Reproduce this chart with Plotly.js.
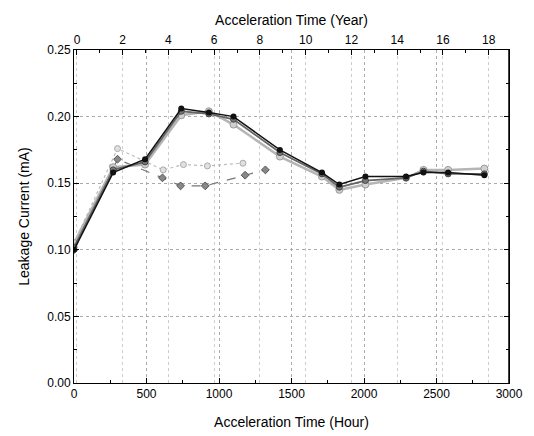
<!DOCTYPE html>
<html><head><meta charset="utf-8">
<script src="https://cdn.plot.ly/plotly-3.0.1.min.js"></script>
<style>body{margin:0;background:#fff}#c{width:534px;height:436px}</style>
</head><body><div id="c"></div>
<script>
const hoursMain = [0, 270, 490, 740, 930, 1100, 1420, 1710, 1830, 2010, 2290, 2410, 2580, 2830];
const seriesBlack = [0.100, 0.158, 0.168, 0.206, 0.203, 0.200, 0.175, 0.158, 0.149, 0.155, 0.155, 0.158, 0.158, 0.156];
const seriesDark  = [0.102, 0.160, 0.166, 0.204, 0.202, 0.198, 0.173, 0.157, 0.147, 0.152, 0.154, 0.159, 0.157, 0.157];
const seriesLight = [0.105, 0.162, 0.164, 0.201, 0.204, 0.194, 0.170, 0.155, 0.145, 0.149, 0.154, 0.160, 0.160, 0.161];
const hoursA = [0, 300, 610, 735, 905, 1180, 1320];
const seriesA = [0.100, 0.168, 0.154, 0.148, 0.148, 0.156, 0.160];
const hoursB = [0, 300, 615, 755, 920, 1165];
const seriesB = [0.105, 0.176, 0.160, 0.164, 0.163, 0.165];
const yearTicks = [0, 2, 4, 6, 8, 10, 12, 14, 16, 18];

const font = {family: 'Liberation Sans, Arial, sans-serif', color: '#000'};
const traces = [
  {x: hoursB, y: seriesB, mode: 'lines+markers', line: {color: '#bbbbbb', width: 1.2, dash: 'dot'},
   marker: {symbol: 'circle', size: 6, color: '#e0e0e0', line: {color: '#aaaaaa', width: 1}}},
  {x: hoursA, y: seriesA, mode: 'lines+markers', line: {color: '#777777', width: 1.2, dash: 'dash'},
   marker: {symbol: 'diamond', size: 6, color: '#888888', line: {color: '#555555', width: 1}}},
  {x: hoursMain, y: seriesLight, mode: 'lines+markers', line: {color: '#b5b5b5', width: 2.5},
   marker: {symbol: 'circle', size: 7, color: '#d0d0d0', line: {color: '#999999', width: 1}}},
  {x: hoursMain, y: seriesDark, mode: 'lines+markers', line: {color: '#666666', width: 1.8},
   marker: {symbol: 'circle', size: 6, color: '#777777', line: {color: '#444444', width: 1}}},
  {x: hoursMain, y: seriesBlack, mode: 'lines+markers', line: {color: '#111111', width: 1.5},
   marker: {symbol: 'circle', size: 6, color: '#111111'}},
  {x: yearTicks, y: yearTicks.map(() => null), xaxis: 'x2', mode: 'lines', showlegend: false, hoverinfo: 'skip'}
];
const layout = {
  width: 534, height: 436, showlegend: false,
  paper_bgcolor: '#fff', plot_bgcolor: '#fff',
  margin: {l: 74, r: 25, t: 50, b: 53},
  font: Object.assign({size: 12}, font),
  xaxis: {
    range: [0, 3000], dtick: 500, tick0: 0, ticks: 'inside', ticklen: 5, tickcolor: '#000',
    showline: true, linecolor: '#000', linewidth: 1, mirror: false, zeroline: false,
    showgrid: true, gridcolor: '#aaa', griddash: 'dot', gridwidth: 1,
    minor: {dtick: 250, ticks: 'inside', ticklen: 3, tickcolor: '#000', showgrid: false},
    title: {text: 'Acceleration Time (Hour)', font: Object.assign({size: 14}, font), standoff: 16},
    tickfont: Object.assign({size: 12}, font)
  },
  xaxis2: {
    overlaying: 'x', side: 'top', range: [-0.13, 18.89], dtick: 2, tick0: 0,
    ticks: 'inside', ticklen: 5, tickcolor: '#000', showline: true, linecolor: '#000', linewidth: 1,
    showgrid: true, gridcolor: '#cccccc', griddash: 'dot', zeroline: false,
    minor: {dtick: 1, ticks: 'inside', ticklen: 3, tickcolor: '#000', showgrid: false},
    title: {text: 'Acceleration Time (Year)', font: Object.assign({size: 14}, font), standoff: 4},
    tickfont: Object.assign({size: 12}, font)
  },
  yaxis: {
    range: [0, 0.25], dtick: 0.05, tick0: 0, tickformat: '.2f', ticks: 'inside', ticklen: 5, tickcolor: '#000',
    showline: true, linecolor: '#000', linewidth: 1, mirror: 'ticks', zeroline: false,
    showgrid: true, gridcolor: '#aaa', griddash: 'dot', gridwidth: 1,
    minor: {dtick: 0.025, ticks: 'inside', ticklen: 3, tickcolor: '#000', showgrid: false},
    title: {text: 'Leakage Current (mA)', font: Object.assign({size: 14}, font), standoff: 14},
    tickfont: Object.assign({size: 12}, font)
  },
  shapes: [
    {type: 'line', xref: 'paper', yref: 'paper', x0: 1, x1: 1, y0: 0, y1: 1, line: {color: '#000', width: 1.5}}
  ]
};
Plotly.newPlot('c', traces, layout, {displayModeBar: false, staticPlot: true});
</script></body></html>
